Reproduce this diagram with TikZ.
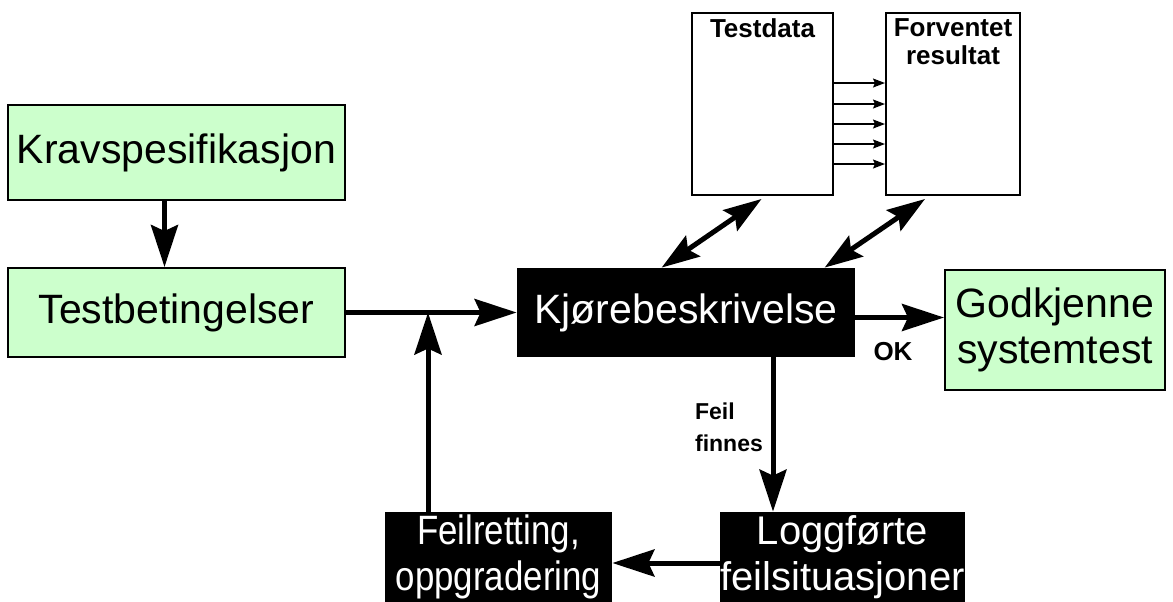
\documentclass[tikz,border=0pt]{standalone}
\usepackage{fontspec}
\setmainfont{Liberation Sans}
\newfontfamily\narrowfont[FakeStretch=0.85]{Liberation Sans}
\usepackage{tikz}
\usetikzlibrary{calc,positioning,arrows.meta}
\definecolor{lightgreen}{RGB}{204,255,204}
\tikzset{
	greenbox/.style={draw, line width=1pt, fill=lightgreen, inner sep=0pt, align=center, font=\fontsize{20.5}{23}\selectfont},
	blackbox/.style={fill=black, text=white, inner sep=0pt, align=center, font=\fontsize{20.5}{23}\selectfont},
	whitebox/.style={draw, line width=1pt, fill=white, inner sep=0pt},
	boxlabel/.style={font=\bfseries\fontsize{13}{14}\selectfont, align=center, anchor=north, inner sep=3pt},
	smalltext/.style={font=\bfseries\fontsize{11.5}{16}\selectfont, align=left},
	bigarrow/.style={line width=2.5pt, -{Stealth[length=21pt, width=13.5pt, inset=3pt]}},
	twoarrow/.style={line width=2.5pt, {Stealth[length=19pt, width=12.5pt, inset=3pt]}-{Stealth[length=19pt, width=12.5pt, inset=3pt]}},
	smallarrow/.style={line width=0.7pt, -{Stealth[length=6pt, width=4.5pt, inset=1pt]}}
}

\begin{document}
\begin{tikzpicture}[x=0.5pt, y=-0.5pt]
			\useasboundingbox (0,0) rectangle (1173,601);
			% boksene
			\node[greenbox, minimum width=168.5pt, minimum height=47.5pt] (krav) at (176.5,152.5) {Kravspesifikasjon};
			\node[greenbox, minimum width=168.5pt, minimum height=44.5pt] (testbet) at (176.5,312.5) {Testbetingelser};
			\node[blackbox, minimum width=169pt, minimum height=44.5pt] (kjore) at (686,312.5) {Kjørebeskrivelse};
			\node[greenbox, minimum width=110pt, minimum height=60pt] (godkj) at (1055,330) {Godkjenne\\systemtest};
			\node[blackbox, minimum width=121pt, minimum height=45pt, font=\fontsize{20}{23}\selectfont] (logg) at (842.5,557) {Loggførte\\feilsituasjoner};
			\node[blackbox, minimum width=113.5pt, minimum height=45pt, font=\narrowfont\fontsize{20.5}{23}\selectfont] (feilr) at (498.5,557) {Feilretting,\\oppgradering};
			\node[whitebox, minimum width=70.5pt, minimum height=91pt, label={[boxlabel]north:Testdata}] (testdata) at (762.5,104) {};
			\node[whitebox, minimum width=67pt, minimum height=91pt, label={[boxlabel]north:Forventet\\resultat}] (forv) at (953,104) {};
			% hjelpepunkter
			\coordinate (jn) at (428,312.5);
			\coordinate (ok) at ($(kjore.east)+(0,5)$);
			\coordinate (fl) at (773,357);
			% piler
			\draw[bigarrow] ($(krav.south)+(-12,0)$) -- ($(testbet.north)+(-12,0)$);
			\draw[bigarrow] (testbet.east) -- (kjore.west);
			\draw[bigarrow] (feilr.north -| jn) -- (jn);
			\draw[bigarrow] (ok) -- (godkj.west |- ok);
			\draw[bigarrow] (kjore.south -| fl) -- (logg.north -| fl);
			\draw[bigarrow] ($(logg.west)+(0,6)$) -- ($(feilr.east)+(0,6)$);
			\draw[twoarrow] ($(kjore.north west)+(145,0)$) -- ($(testdata.south)+(-1,3)$);
			\draw[twoarrow] ($(kjore.north west)+(308,0)$) -- ($(forv.south)+(-28,3)$);
			\foreach \y in {83,104,124,144,164}
				\draw[smallarrow] (testdata.east |- 0,\y) -- (forv.west |- 0,\y);
			% tekst
			\node[smalltext, font=\bfseries\fontsize{13}{16}\selectfont] (oklab) at (893,352) {OK};
			\node[smalltext] (feillab) at (729,427) {Feil\\finnes};
	\end{tikzpicture}
\end{document}
